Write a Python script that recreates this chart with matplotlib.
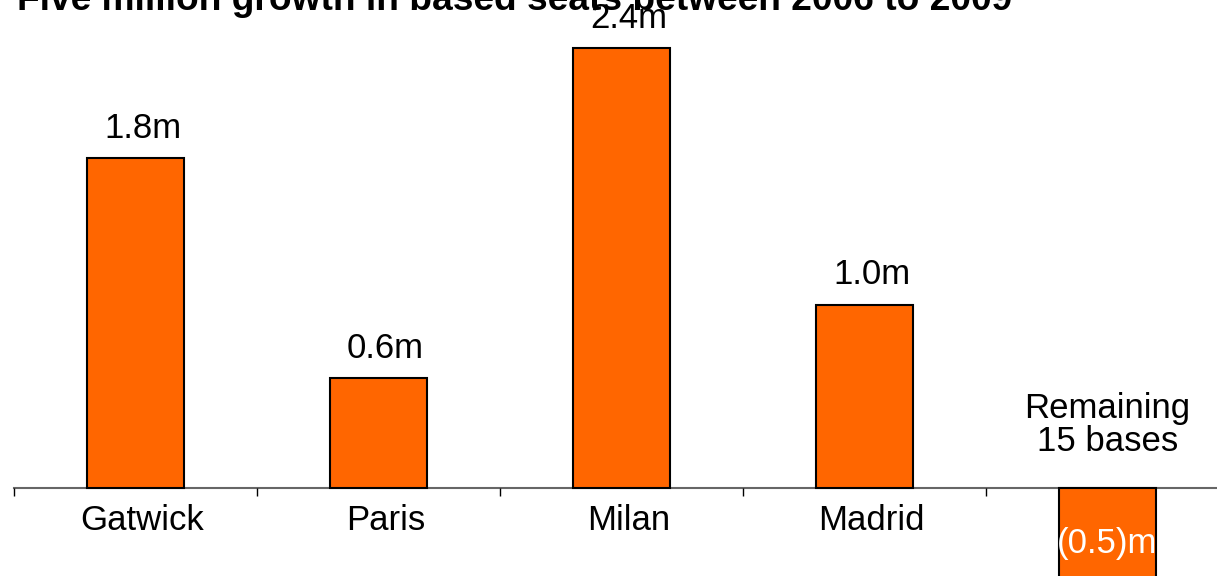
import matplotlib
matplotlib.use("Agg")
import matplotlib.pyplot as plt
import numpy as np

plt.rcParams['font.family'] = ['Liberation Sans', 'DejaVu Sans']

title = "Five million growth in based seats between 2006 to 2009"
categories = ["Gatwick", "Paris", "Milan", "Madrid", "Remaining\n15 bases"]
values = [1.8, 0.6, 2.4, 1.0, -0.5]
value_labels = ["1.8m", "0.6m", "2.4m", "1.0m", "(0.5)m"]

fig = plt.figure(figsize=(12.17, 5.76), dpi=100)
# axes run a bit past the right edge, like the original slide
ax = fig.add_axes([14 / 1217, 0, 1215 / 1217, 1])

x = np.arange(len(categories))
ax.bar(x, values, width=0.4, color="#FF6600", edgecolor="black", linewidth=1.5, zorder=2)

ax.set_xlim(-0.5, len(categories) - 0.5)
ax.set_ylim(-88 / 183.3, 488 / 183.3)

for s in ["top", "right", "left"]:
    ax.spines[s].set_visible(False)
ax.spines["bottom"].set_position(("data", 0))
ax.spines["bottom"].set_color("#666666")
ax.spines["bottom"].set_linewidth(1.5)
ax.spines["bottom"].set_zorder(1)
ax.set_yticks([])
ax.set_xticks(np.arange(len(categories) + 1) - 0.5)
ax.set_xticklabels([])
ax.tick_params(axis="x", direction="out", length=6, width=1, color="black")

fs = 25
for i, (v, lab, cat) in enumerate(zip(values, value_labels, categories)):
    if v >= 0:
        ax.annotate(lab, (i, v), xytext=(7, 30), textcoords="offset pixels",
                    ha="center", va="center", fontsize=fs)
        ax.annotate(cat, (i, 0), xytext=(7, -32), textcoords="offset pixels",
                    ha="center", va="center", fontsize=fs)
    else:
        ax.annotate(lab, (i, 0), xytext=(0, -55), textcoords="offset pixels",
                    ha="center", va="center", fontsize=fs, color="white")
        ax.annotate(cat, (i, 0), xytext=(0, 63), textcoords="offset pixels",
                    ha="center", va="center", fontsize=fs, linespacing=1.0)

fig.text(515 / 1217, 1 - 10 / 576, title, ha="center", va="baseline",
         fontsize=26.7, fontweight="bold")

fig.savefig("out.png", dpi=100)
